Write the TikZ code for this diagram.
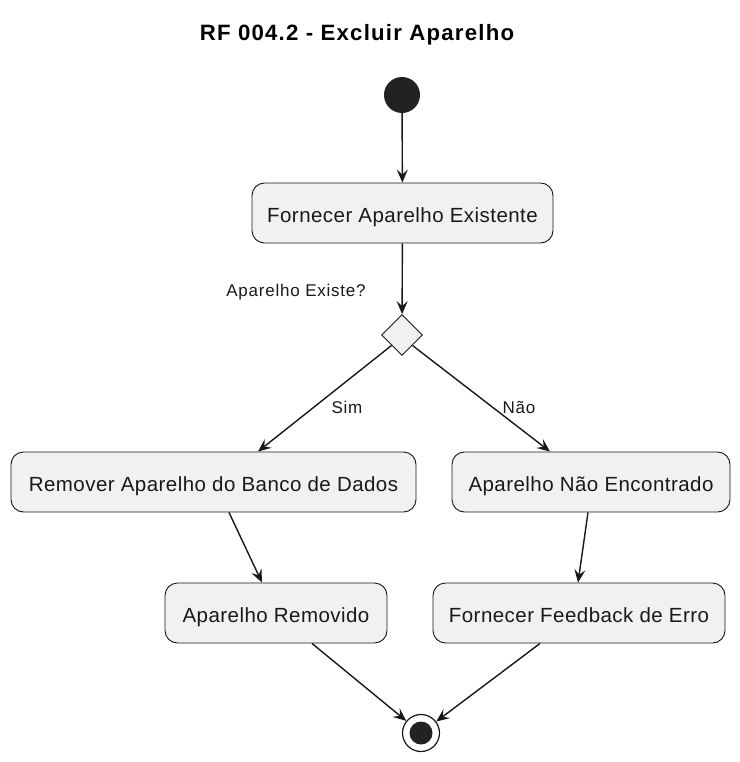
\documentclass[tikz,border=0pt]{standalone}
\usepackage{fontspec}
\setmainfont{Liberation Sans}
\usetikzlibrary{shapes.geometric,arrows.meta}
\definecolor{boxfill}{HTML}{F1F1F1}
\definecolor{edge}{HTML}{181818}
\definecolor{dot}{HTML}{222222}
\newfontfamily\nodefont[LetterSpace=2.2]{Liberation Sans}
\newfontfamily\titlefont[LetterSpace=5.5]{Liberation Sans Bold}
\newfontfamily\labelfont[LetterSpace=4.5]{Liberation Sans}
\begin{document}
\begin{tikzpicture}[x=1pt,y=-1pt,
  actbox/.style={draw=edge,fill=boxfill,line width=0.9pt,rounded corners=12.5pt,
    minimum height=60pt,inner sep=0pt,text height=18.6pt,text depth=0pt,
    font=\nodefont\fontsize{20.5}{24}\selectfont,text=black!90},
  decision/.style={draw=edge,fill=boxfill,line width=0.9pt,diamond,minimum width=41pt,minimum height=41pt,inner sep=0pt},
  flow/.style={draw=edge,line width=1.4pt,-{Stealth[length=13pt,width=11pt,inset=5pt]}},
  lbl/.style={font=\labelfont\fontsize{17}{20}\selectfont,text=black!90}
]
\useasboundingbox (0,0) rectangle (739,762);
\fill[white] (0,0) rectangle (739,762);

\node[font=\titlefont\fontsize{22.2}{26}\selectfont] (title) at (357,35) {RF 004.2 - Excluir Aparelho};

\node[circle,fill=dot,minimum size=36pt,inner sep=0pt] (start) at (402,95) {};
\node[actbox,minimum width=301pt] (b1) at (402.5,213) {Fornecer Aparelho Existente};
\node[decision] (dia) at (402,335) {};
\node[lbl] (q) at (296,292) {Aparelho Existe?};
\node[actbox,minimum width=405pt] (rem) at (213.5,482) {Remover Aparelho do Banco de Dados};
\node[actbox,minimum width=278pt] (nao) at (591,482) {Aparelho Não Encontrado};
\node[actbox,minimum width=222pt] (remd) at (276,613) {Aparelho Removido};
\node[actbox,minimum width=292pt] (fb) at (579,613) {Fornecer Feedback de Erro};
\node[circle,draw=edge,fill=white,line width=1.2pt,minimum size=37pt,inner sep=0pt] (end) at (421,733) {};
\node[circle,fill=dot,minimum size=23pt,inner sep=0pt] (endin) at (end.center) {};
\node[lbl] (sim) at (347,407) {Sim};
\node[lbl] (naol) at (519,407) {Não};

\draw[flow] (start) -- (b1);
\draw[flow] (b1) -- (dia);
\draw[flow] (dia.south west) -- ([xshift=44.5pt]rem.north);
\draw[flow] (dia.south east) -- ([xshift=-41pt]nao.north);
\draw[flow] ([xshift=15.5pt]rem.south) -- ([xshift=-14pt]remd.north);
\draw[flow] ([xshift=-3pt]nao.south) -- ([xshift=-1pt]fb.north);
\draw[flow] ([xshift=36pt]remd.south) -- (end);
\draw[flow] ([xshift=-39pt]fb.south) -- (end);
\end{tikzpicture}
\end{document}
